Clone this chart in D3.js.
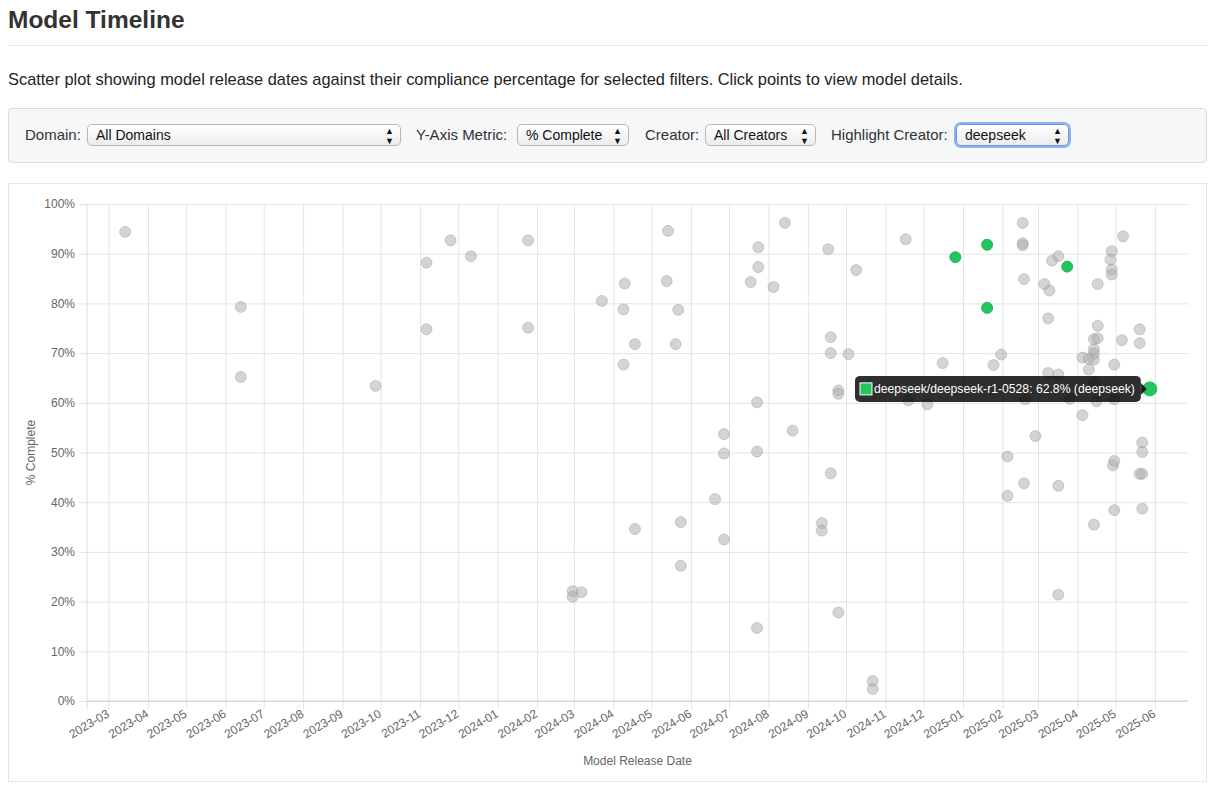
<!DOCTYPE html>
<html>
<head>
<meta charset="utf-8">
<script src="https://cdn.jsdelivr.net/npm/d3@7"></script>
<style>
  body { margin: 0; background: #fff; font-family: "Helvetica Neue", Helvetica, Arial, "Liberation Sans", sans-serif; color: #333; }
  #page { position: relative; width: 1212px; height: 787px; }
  h2 { position: absolute; left: 8px; top: 6px; margin: 0; font-size: 24.5px; font-weight: bold; color: #333; }
  .rule { position: absolute; left: 8px; top: 45px; width: 1199px; height: 1px; background: #e6e6e6; }
  .desc { position: absolute; left: 8px; top: 70px; font-size: 16.4px; color: #222; white-space: nowrap; }
  .controls { position: absolute; left: 8px; top: 108px; width: 1197px; height: 53px; background: #f6f7f8; border: 1px solid #dcdcdc; border-radius: 4px; }
  .controls label { position: absolute; top: 17px; font-size: 15px; color: #333; white-space: nowrap; }
  .sel { position: absolute; top: 15px; height: 22px; box-sizing: border-box; border: 1px solid #b8b8b8; border-radius: 5px;
         background: linear-gradient(#ffffff, #ececec); font-size: 14px; line-height: 20px; padding-left: 8px; color: #111; white-space: nowrap; }
  .sel .arr { position: absolute; right: 6px; top: 0; font-size: 9px; line-height: 10px; padding-top: 1px; }
  .sel.focus { box-shadow: 0 0 0 2px #8fb1ee; border-color: #6d97e0; }
  #MyGraph { position: absolute; left: 8px; top: 183px; width: 1197px; height: 597px; border: 1px solid #e6e6e6; }
</style>
</head>
<body>
<div id="page">
  <h2>Model Timeline</h2>
  <div class="rule"></div>
  <div class="desc">Scatter plot showing model release dates against their compliance percentage for selected filters. Click points to view model details.</div>
  <div class="controls">
    <label style="left:16px">Domain:</label>
    <div class="sel" style="left:78px;width:314px">All Domains<span class="arr">&#9650;<br>&#9660;</span></div>
    <label style="left:407px">Y-Axis Metric:</label>
    <div class="sel" style="left:508px;width:112px">% Complete<span class="arr">&#9650;<br>&#9660;</span></div>
    <label style="left:636px">Creator:</label>
    <div class="sel" style="left:696px;width:111px">All Creators<span class="arr">&#9650;<br>&#9660;</span></div>
    <label style="left:822px">Highlight Creator:</label>
    <div class="sel focus" style="left:947px;width:113px">deepseek<span class="arr">&#9650;<br>&#9660;</span></div>
  </div>
  <svg id="MyGraph"></svg>
</div>
<script>
// 全モデル (グレー)
var otherDates = [
  "2023-03-14","2023-06-13","2023-06-13","2023-09-27","2023-11-06","2023-11-06","2023-11-25","2023-12-11",
  "2024-01-25","2024-01-25","2024-02-29","2024-02-29","2024-03-07","2024-03-23","2024-04-09","2024-04-10",
  "2024-04-09","2024-04-18","2024-04-18","2024-05-13","2024-05-14","2024-05-22","2024-05-20","2024-05-24",
  "2024-05-24","2024-06-20","2024-06-27","2024-06-27","2024-06-27","2024-07-18","2024-07-24","2024-07-24",
  "2024-07-23","2024-07-23","2024-07-23","2024-08-05","2024-08-14","2024-08-20","2024-09-12","2024-09-12",
  "2024-09-17","2024-09-19","2024-09-19","2024-09-19","2024-09-25","2024-09-25","2024-09-25","2024-10-03",
  "2024-10-09","2024-10-22","2024-10-22","2024-11-17","2024-11-19","2024-12-04","2024-12-16","2025-01-25",
  "2025-01-31","2025-02-05","2025-02-05","2025-02-17","2025-02-17","2025-02-17","2025-02-18","2025-02-18",
  "2025-02-19","2025-02-27","2025-03-06","2025-03-10","2025-03-09","2025-03-09","2025-03-12","2025-03-17",
  "2025-03-17","2025-03-17","2025-03-17","2025-03-26","2025-04-05","2025-04-05","2025-04-10","2025-04-10",
  "2025-04-14","2025-04-14","2025-04-14","2025-04-14","2025-04-14","2025-04-14","2025-04-16","2025-04-17",
  "2025-04-17","2025-04-17","2025-04-28","2025-04-27","2025-04-28","2025-04-28","2025-04-30","2025-04-30",
  "2025-04-30","2025-04-29","2025-04-30","2025-05-07","2025-05-06","2025-05-20","2025-05-20","2025-05-20",
  "2025-05-22","2025-05-22","2025-05-22","2025-05-22"
];
var otherPct = [
  94.4, 79.3, 65.2, 63.4, 88.2, 74.8, 92.7, 89.5,
  92.7, 75.1, 22.1, 21.0, 21.9, 80.5, 78.8, 84.0,
  67.7, 71.8, 34.6, 84.5, 94.6, 78.7, 71.8, 36.0,
  27.2, 40.6, 53.7, 49.8, 32.5, 84.3, 91.3, 87.3,
  60.1, 50.2, 14.7, 83.3, 96.2, 54.4, 35.8, 34.3,
  90.9, 73.2, 70.0, 45.8, 62.5, 61.8, 17.8, 69.8,
  86.7, 4.0, 2.4, 92.9, 60.5, 59.7, 68.0, 67.6,
  69.7, 49.2, 41.3, 96.2, 92.1, 91.7, 84.9, 43.8,
  60.7, 53.3, 83.9, 82.6, 77.0, 66.0, 88.6, 89.5,
  65.7, 43.3, 21.4, 60.8, 69.1, 57.5, 68.9, 66.7,
  72.8, 70.8, 69.9, 68.7, 64.2, 35.5, 60.3, 83.9,
  75.5, 73.0, 90.5, 88.8, 86.8, 85.8, 67.7, 60.7,
  48.3, 47.4, 38.4, 93.5, 72.6, 74.8, 72.0, 45.7,
  45.7, 52.0, 50.1, 38.7
];

// ハイライト (deepseek)
var deepseekDates = ["2024-12-26", "2025-01-20", "2025-01-20", "2025-03-24", "2025-05-28"];
var deepseekPct = [89.3, 91.8, 79.1, 87.4, 62.8];
var deepseekNames = ["deepseek/deepseek-chat", "deepseek/deepseek-r1", "deepseek/deepseek-r1-distill-llama-70b",
                     "deepseek/deepseek-chat-v3-0324", "deepseek/deepseek-r1-0528"];
var hoverIndex = 4;

var yTicks = [0, 10, 20, 30, 40, 50, 60, 70, 80, 90, 100];

var fmtFunc = d3.timeParse("%Y-%m-%d");

var others = otherDates.map(function(d, i){ return {date: fmtFunc(d), value: otherPct[i]}; });
var highlights = deepseekDates.map(function(d, i){ return {date: fmtFunc(d), value: deepseekPct[i], name: deepseekNames[i]}; });

var margin = {top: 20, right: 18, bottom: 80, left: 78};
var width = 1197 - margin.left - margin.right;
var height = 597 - margin.top - margin.bottom;

var svg = d3.select("#MyGraph")
    .attr("width", 1197)
    .attr("height", 597)
    .style("font-family", "'Helvetica Neue', Helvetica, Arial, 'Liberation Sans', sans-serif")
    .append("g")
    .attr("transform", "translate(" + margin.left + "," + margin.top + ")");

// 時間軸 (前後に30日の余白)
var allDates = others.concat(highlights).map(function(d){ return d.date; });
var ext = d3.extent(allDates);
var time_scale = d3.scaleTime()
    .domain([d3.timeDay.offset(ext[0], -30), d3.timeDay.offset(ext[1], 30)])
    .range([0, width]);

var y_scale = d3.scaleLinear()
    .domain([0, 100])
    .range([height, 0]);

// グリッド + 縦軸
var yAxis = svg.append("g")
    .attr("class", "axis")
    .call(d3.axisLeft(y_scale).tickValues(yTicks).tickSizeInner(-width - 8).tickSizeOuter(0)
          .tickFormat(function(d){ return d + "%"; }));
yAxis.select(".domain").remove();
yAxis.selectAll(".tick line").attr("x1", -8).attr("x2", width).attr("stroke", "#e4e4e4");
yAxis.selectAll(".tick text").attr("x", -12).attr("fill", "#666").style("font-size", "12px");

// 横軸
var xAxis = svg.append("g")
    .attr("class", "axis")
    .attr("transform", "translate(0," + height + ")")
    .call(d3.axisBottom(time_scale).ticks(d3.timeMonth.every(1)).tickSizeOuter(0)
          .tickFormat(d3.timeFormat("%Y-%m")));
xAxis.select(".domain").remove();
xAxis.selectAll(".tick line").attr("y1", 8).attr("y2", -height).attr("stroke", "#e4e4e4");
xAxis.selectAll(".tick text")
    .attr("fill", "#666")
    .style("font-size", "12px")
    .attr("y", 0).attr("dy", 0)
    .attr("transform", "translate(1,15) rotate(-31)")
    .style("text-anchor", "end");

// 軸の線
svg.append("line")
    .attr("x1", 0).attr("x2", width).attr("y1", height).attr("y2", height)
    .attr("stroke", "#cfcfcf");
svg.append("line")
    .attr("x1", 0).attr("x2", 0).attr("y1", 0).attr("y2", height + 8)
    .attr("stroke", "#dcdcdc");

// ラベル
svg.append("text")
    .attr("x", width / 2).attr("y", height + 64)
    .attr("text-anchor", "middle").attr("fill", "#666").style("font-size", "12px")
    .text("Model Release Date");
svg.append("text")
    .attr("transform", "translate(-52," + (height / 2) + ") rotate(-90)")
    .attr("text-anchor", "middle").attr("fill", "#666").style("font-size", "12px")
    .text("% Complete");

// グレーの点
svg.selectAll("circle.other")
    .data(others)
    .enter()
    .append("circle")
    .attr("class", "other")
    .attr("r", 5.5)
    .attr("fill", "rgba(170,170,170,0.5)")
    .attr("stroke", "rgba(150,150,150,0.4)")
    .attr("cx", function(d){ return time_scale(d.date); })
    .attr("cy", function(d){ return y_scale(d.value); });

// deepseek の点
svg.selectAll("circle.hl")
    .data(highlights)
    .enter()
    .append("circle")
    .attr("class", "hl")
    .attr("r", function(d, i){ return i == hoverIndex ? 7 : 5.5; })
    .attr("fill", "#22c55e")
    .attr("stroke", "#1fb856")
    .attr("cx", function(d){ return time_scale(d.date); })
    .attr("cy", function(d){ return y_scale(d.value); });

// ツールチップ
var hp = highlights[hoverIndex];
var px = time_scale(hp.date), py = y_scale(hp.value);
var tip = svg.append("g");
var tipBg = tip.append("rect").attr("rx", 5).attr("fill", "rgba(0,0,0,0.82)");
var tipText = tip.append("text")
    .attr("fill", "#fff").style("font-size", "12.2px")
    .text(hp.name + ": " + hp.value.toFixed(1) + "% (" + hp.name.split("/")[0] + ")");
var tw = tipText.node().getComputedTextLength();
var boxW = tw + 25, boxH = 26;
var bx = px - 9 - boxW, by = py - boxH / 2;
tipBg.attr("x", bx).attr("y", by).attr("width", boxW).attr("height", boxH);
tip.append("path")
    .attr("d", "M" + (bx + boxW) + "," + (py - 6) + "L" + (bx + boxW + 6) + "," + py + "L" + (bx + boxW) + "," + (py + 6) + "Z")
    .attr("fill", "rgba(0,0,0,0.82)");
tip.append("rect")
    .attr("x", bx + 5).attr("y", py - 6).attr("width", 12).attr("height", 12)
    .attr("fill", "#22c55e").attr("stroke", "#fff").attr("stroke-width", 1);
tipText.attr("x", bx + 19).attr("y", py + 4.5);
</script>
</body>
</html>
